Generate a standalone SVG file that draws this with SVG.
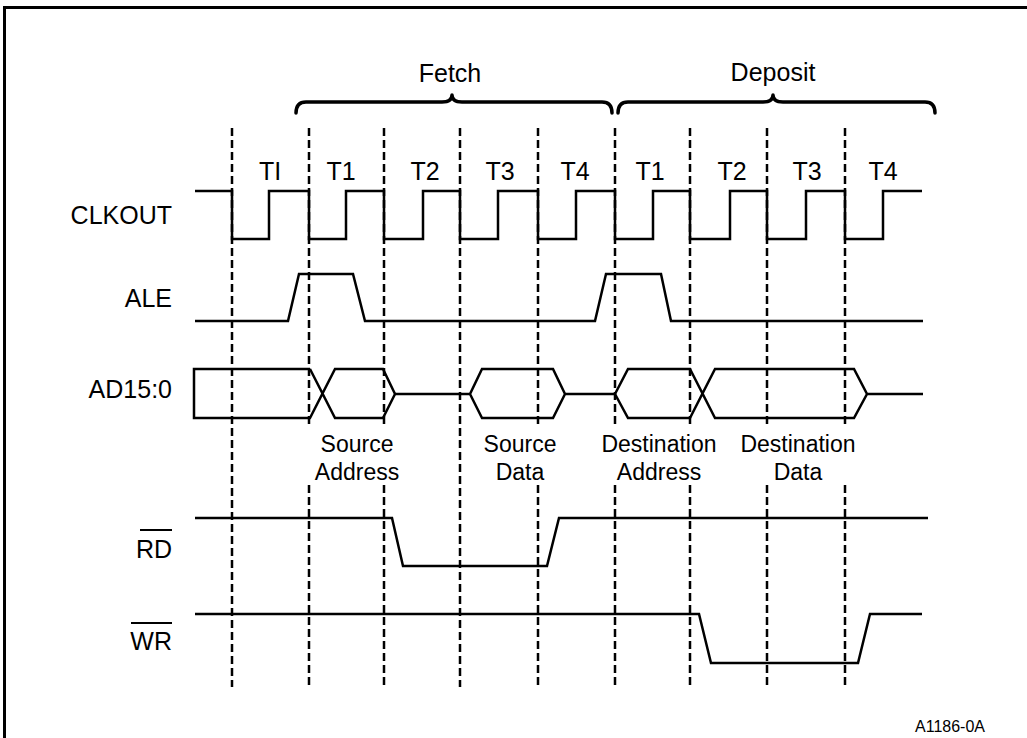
<svg xmlns="http://www.w3.org/2000/svg" width="1027" height="738" viewBox="0 0 1027 738">
<style>
.sig{fill:none;stroke:#000;stroke-width:2.5;stroke-linejoin:miter}
.dash{fill:none;stroke:#000;stroke-width:2.5;stroke-dasharray:8,4}
.brace{fill:none;stroke:#000;stroke-width:3.5;stroke-linecap:round;stroke-linejoin:round}
.lbl{font-family:"Liberation Sans",Arial,sans-serif;font-size:25px;fill:#000}
.sm{font-family:"Liberation Sans",Arial,sans-serif;font-size:23px;fill:#000;text-anchor:middle}
.ck{text-anchor:middle}
.end{text-anchor:end}
</style>
<rect width="1027" height="738" fill="#fff"/>
<g id="frame"><path d="M4.5,738 V7.5 H1027" fill="none" stroke="#000" stroke-width="3"/></g>

<g id="gridlines">
<path class="dash" d="M232,128 V687 M460,128 V687"/>
<path class="dash" d="M309,128 V428 M309,485 V687 M384,128 V428 M384,485 V687 M538,128 V428 M538,485 V687 M615,128 V428 M615,485 V687 M690,128 V428 M690,485 V687 M767,128 V428 M767,485 V687 M845,128 V428 M845,485 V687"/>
</g>

<g id="phases">
<path class="brace" d="M296,113 Q296,102 306,102 L442,102 Q452,102 452,95 Q452,102 462,102 L602,102 Q612,102 612,113"/>
<text class="lbl ck" x="450" y="82">Fetch</text>
<path class="brace" d="M618,113 Q618,102 628,102 L763,102 Q773,102 773,95 Q773,102 783,102 L925,102 Q935,102 935,113"/>
<text class="lbl ck" x="773" y="81">Deposit</text>
</g>

<g id="clkout">
<text class="lbl end" x="172" y="224">CLKOUT</text>
<path class="sig" d="M195,191 H232 V239 H269 V191 H309 V239 H346 V191 H384 V239 H423 V191 H460 V239 H498 V191 H538 V239 H576 V191 H615 V239 H653 V191 H690 V239 H730 V191 H767 V239 H806 V191 H845 V239 H883 V191 H922"/>
<text class="lbl ck" x="270" y="180">TI</text>
<text class="lbl ck" x="341" y="180">T1</text>
<text class="lbl ck" x="425" y="180">T2</text>
<text class="lbl ck" x="500" y="180">T3</text>
<text class="lbl ck" x="575" y="180">T4</text>
<text class="lbl ck" x="650" y="180">T1</text>
<text class="lbl ck" x="732" y="180">T2</text>
<text class="lbl ck" x="807" y="180">T3</text>
<text class="lbl ck" x="883" y="180">T4</text>
</g>

<g id="ale">
<text class="lbl end" x="172" y="307">ALE</text>
<path class="sig" d="M195,321 H288 L299,274 H353 L365,321 H595 L606,274 H661 L671,321 H923"/>
</g>

<g id="ad">
<text class="lbl end" x="172" y="398">AD15:0</text>
<path class="sig" d="M310,369 H194 V418 H310 L335,369 H383 L395,394 L383,418 H335 L310,369"/>
<path class="sig" d="M395,394 H470 L482,369 H553 L565,394 L553,418 H482 L470,394 M565,394 H615"/>
<path class="sig" d="M615,394 L628,369 H690 L715,418 H854 L867,394 L854,369 H715 L690,418 H628 L615,394 M867,394 H923"/>
<text class="sm" x="357" y="452">Source</text>
<text class="sm" x="357" y="480">Address</text>
<text class="sm" x="520" y="452">Source</text>
<text class="sm" x="520" y="480">Data</text>
<text class="sm" x="659" y="452">Destination</text>
<text class="sm" x="659" y="480">Address</text>
<text class="sm" x="798" y="452">Destination</text>
<text class="sm" x="798" y="480">Data</text>
</g>

<g id="rd">
<text class="lbl end" x="172" y="558">RD</text>
<line x1="140" y1="530" x2="172" y2="530" stroke="#000" stroke-width="2"/>
<path class="sig" d="M195,518 H392 L403,566 H547 L559,518 H928"/>
</g>

<g id="wr">
<text class="lbl end" x="172" y="650">WR</text>
<line x1="131" y1="623" x2="172" y2="623" stroke="#000" stroke-width="2"/>
<path class="sig" d="M195,614 H699 L711,663 H858 L870,614 H922"/>
</g>

<text id="figid" x="985" y="732" font-family="Liberation Sans, Arial, sans-serif" font-size="16" text-anchor="end">A1186-0A</text>
</svg>
